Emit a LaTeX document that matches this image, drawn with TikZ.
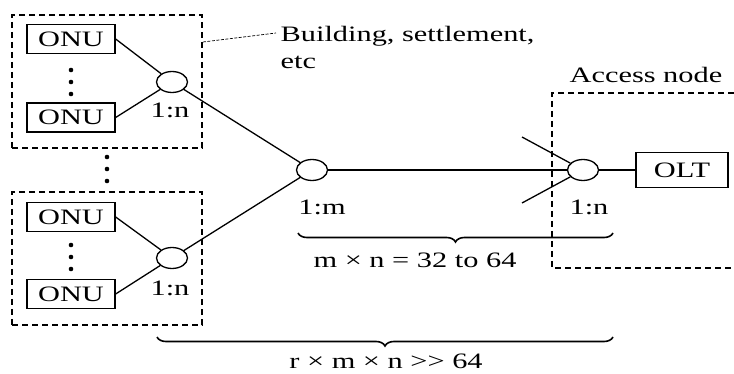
\documentclass[tikz,border=0pt]{standalone}
\usepackage{fontspec}
\setmainfont{Liberation Serif}
\usepackage{graphicx}
\usetikzlibrary{shapes.geometric,decorations.pathreplacing}
\newcommand\wtxt[1]{\scalebox{1.38}[1]{#1}}
\begin{document}
\begin{tikzpicture}[x=1pt,y=-1pt,line width=1.3pt,
  txt/.style={inner sep=0pt,font=\fontsize{22}{27}\selectfont},
  unit/.style={draw,minimum width=88pt,minimum height=29pt,inner sep=0pt,font=\fontsize{22}{27}\selectfont},
  olt/.style={draw,minimum width=92pt,minimum height=35pt,inner sep=0pt,font=\fontsize{22}{27}\selectfont},
  split/.style={draw,ellipse,minimum width=31pt,minimum height=21pt,inner sep=0pt},
  group/.style={draw,dash pattern=on 6pt off 4pt,line width=1.2pt},
  leader/.style={dash pattern=on 3pt off 1.5pt,line width=0.7pt},
  bracedown/.style={decorate,decoration={brace,mirror,amplitude=9pt},line width=1.6pt},
  dot/.style={fill=black}]
\useasboundingbox (0,0) rectangle (734,374);
% groups
\node[group,minimum width=190pt,minimum height=133pt,inner sep=0pt] (g1) at (107,81.5) {};
\node[group,minimum width=190pt,minimum height=133pt,inner sep=0pt] (g2) at (107,258.5) {};
\draw[group] (734,93) -- (552,93) -- (552,268) -- (734,268);
% ONUs
\node[unit] (o1) at (71,39) {\wtxt{ONU}};
\node[unit] (o2) at (71,117.5) {\wtxt{ONU}};
\node[unit] (o3) at (71,217) {\wtxt{ONU}};
\node[unit] (o4) at (71,294) {\wtxt{ONU}};
% dots
\foreach \y in {70,82,94} \fill[dot] (71,\y) circle (2.3pt);
\foreach \y in {157,169,181} \fill[dot] (107,\y) circle (2.3pt);
\foreach \y in {245,257,269} \fill[dot] (71,\y) circle (2.3pt);
% splitters
\node[split] (s1) at (172,82) {};
\node[split] (s2) at (172,258) {};
\node[split] (sm) at (312,170) {};
\node[split] (sr) at (583,170) {};
\node[olt] (olt) at (682,170) {\wtxt{OLT}};
% links
\draw (o1.east) -- (s1);
\draw (o2.east) -- (s1);
\draw (o3.east) -- (s2);
\draw (o4.east) -- (s2);
\draw (s1) -- (sm);
\draw (s2) -- (sm);
\draw (sm) -- (sr);
\draw (sr) -- (olt);
\coordinate (stubA) at (522,137);
\coordinate (stubB) at (522,203);
\draw (stubA) -- (sr);
\draw (stubB) -- (sr);
% labels
\node[txt,anchor=base] (l1) at (170,118) {\wtxt{1:n}};
\node[txt,anchor=base] (l2) at (170,295) {\wtxt{1:n}};
\node[txt,anchor=base] (lm) at (322,215) {\wtxt{1:m}};
\node[txt,anchor=base] (lr) at (589,215) {\wtxt{1:n}};
\node[txt,anchor=base west] (acc) at (569,83) {\wtxt{Access node}};
\node[txt,anchor=base west] (bld) at (280,42) {\wtxt{Building, settlement,}};
\node[txt,anchor=base west] (etc) at (280,69) {\wtxt{etc}};
\coordinate (ldA) at (203,42);
\coordinate (ldB) at (276,33);
\draw[leader] (ldA) -- (ldB);
% braces
\coordinate (b1a) at (298,233);
\coordinate (b1b) at (613,233);
\coordinate (b2a) at (157,337);
\coordinate (b2b) at (613,337);
\draw[bracedown] (b1a) -- (b1b);
\draw[bracedown] (b2a) -- (b2b);
\node[txt,anchor=base] (f1) at (415,268) {\wtxt{m × n = 32 to 64}};
\node[txt,anchor=base] (f2) at (386,368) {\wtxt{r × m × n {>}{>} 64}};
\end{tikzpicture}
\end{document}
